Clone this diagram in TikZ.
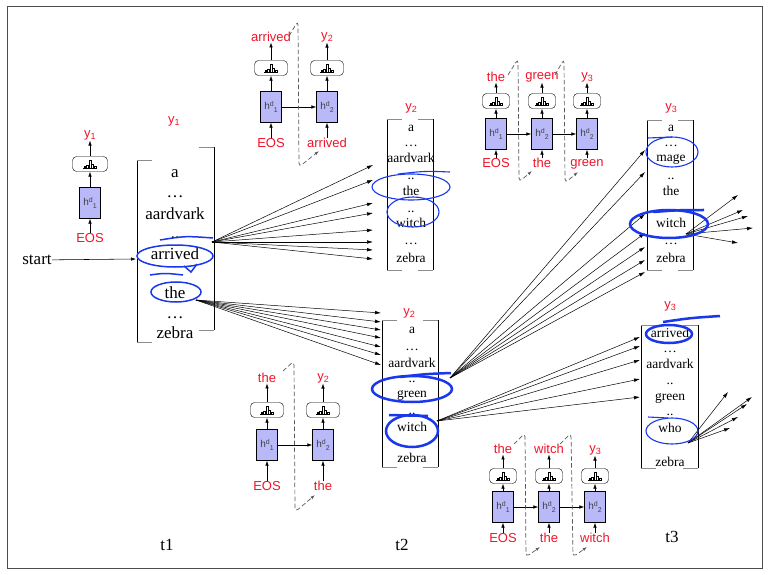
\documentclass[tikz,border=0pt]{standalone}
\usepackage{fontspec}
\setmainfont{Liberation Serif}
\newfontfamily\arial{Liberation Sans}
\usetikzlibrary{arrows.meta}
\definecolor{pen}{RGB}{25,55,235}
\definecolor{hfill}{RGB}{185,185,250}
\definecolor{lbl}{RGB}{240,20,40}
\newcommand\hsym[1]{h\raisebox{0.6ex}{\fontsize{7}{7}\selectfont d}\raisebox{-0.5ex}{\fontsize{7}{7}\selectfont #1}}
\newcommand\ylab[1]{y\raisebox{-0.4ex}{\fontsize{9}{9}\selectfont #1}}
\def\distw{33}
\tikzset{
 wd/.style={font=\fontsize{13.5}{14}\selectfont, inner sep=0pt, anchor=base},
 wdbig/.style={font=\fontsize{17}{18}\selectfont, inner sep=0pt, anchor=base},
 tlab/.style={font=\fontsize{17}{18}\selectfont, inner sep=0pt},
 rl/.style={font=\arial\fontsize{13}{13}\selectfont, text=lbl, inner sep=0.5pt},
 hbox/.style={draw, fill=hfill, minimum width=21pt, minimum height=31pt, inner sep=0pt, font=\arial\fontsize{10}{10}\selectfont, text=black!75},
 dbox/.style={draw, rounded corners=4pt, minimum width=\distw pt, minimum height=15pt, inner sep=0pt},
 ar/.style={-{Latex[length=5pt,width=3.5pt]}, line width=0.55pt},
 fan/.style={-{Latex[length=6pt,width=3.6pt]}, line width=0.5pt},
 fb/.style={dash pattern=on 4.5pt off 2.5pt, draw=black!65, line width=0.7pt, rounded corners=4pt, -{Latex[length=4.5pt,width=3pt]}},
 brk/.style={line width=0.7pt},
 brtick/.style={line width=0.9pt, draw=black!45},
 circthin/.style={draw=pen, line width=1.1pt},
 circmid/.style={draw=pen, line width=1.5pt},
 circthick/.style={draw=pen, line width=2.5pt},
 hist/.pic={
   \draw[line width=0.5pt] (-7,4) -- (7,4);
   \foreach \xx/\hh in {-5.2/2,-2.6/3,0/8,2.6/4,5.2/2}
     \draw[line width=0.45pt] (\xx-0.9,4) rectangle (\xx+0.9,4-\hh);
 }
}
\newcommand\decunit[9]{%
 \node[rl] (#1o) at (#2,#3) {#7};
 \node[dbox] (#1d) at (#2,#4) {};
 \pic at (#1d.center) {hist};
 \node[hbox] (#1h) at (#2,#5) {\hsym{#9}};
 \node[rl] (#1i) at (#2,#6) {#8};
 \draw[ar] (#1i) -- (#1h);
 \draw[ar] (#1h) -- (#1d);
 \draw[ar] (#1d) -- (#1o);
}
\newcommand\brbox[4]{%
 \draw[brk] (#1,#2) -- (#1,#4);
 \draw[brk] (#3,#2) -- (#3,#4);
 \draw[brtick] (#1,#2) -- (#1+15,#2);
 \draw[brtick] (#1,#4) -- (#1+15,#4);
 \draw[brtick] (#3,#2) -- (#3-15,#2);
 \draw[brtick] (#3,#4) -- (#3-15,#4);
}
\begin{document}
\begin{tikzpicture}[x=1pt,y=-1pt]
\useasboundingbox (0,0) rectangle (769,575);
\draw[line width=0.6pt, black!70] (7,6) rectangle (762,568);

% ---------- decoder units ----------
\def\distw{35}
\decunit{TL}{90}{135}{164}{203}{238}{\ylab{1}}{EOS}{1}
\def\distw{33}
\decunit{Aa}{271}{37}{68}{107}{143}{arrived}{EOS}{1}
\decunit{Ab}{327}{37}{68}{107}{143}{\ylab{2}}{arrived}{2}
\draw[ar] (Aah) -- (Abh);
\draw[fb] (289,36) -- (298,21) -- (299,167) -- (319,151);

\def\distw{27}
\decunit{Ba}{496}{77}{101}{134}{163}{the}{EOS}{1}
\decunit{Bb}{542}{77}{101}{134}{163}{green}{the}{2}
\decunit{Bc}{587}{77}{101}{134}{164}{\ylab{3}}{green}{2}
\draw[ar] (Bah) -- (Bbh);
\draw[ar] (Bbh) -- (Bch);
\draw[fb] (508,75) -- (518,59) -- (519,182) -- (532,171);
\draw[fb] (555,75) -- (564,59) -- (565,183) -- (578,172);

\def\distw{33}
\decunit{Ca}{267}{378}{410}{445}{486}{the}{EOS}{1}
\decunit{Cb}{323}{378}{410}{445}{486}{\ylab{2}}{the}{2}
\draw[ar] (Cah) -- (Cbh);
\draw[fb] (283,371) -- (294,361) -- (295,512) -- (315,495);

\def\distw{27}
\decunit{Da}{503}{449}{476}{507}{538}{the}{EOS}{1}
\decunit{Db}{549}{449}{476}{507}{538}{witch}{the}{2}
\decunit{Dc}{595}{450}{476}{507}{538}{\ylab{3}}{witch}{2}
\draw[ar] (Dah) -- (Dbh);
\draw[ar] (Dbh) -- (Dch);
\draw[fb] (514,444) -- (525,433) -- (526,557) -- (540,547);
\draw[fb] (560,444) -- (571,433) -- (573,557) -- (587,547);

% ---------- t1 column ----------
\node[rl] (y1h) at (174,121) {\ylab{1}};
\draw[brk] (137,160) -- (137,342);
\draw[brtick] (137,160) -- (152,160);
\draw[brtick] (137,342) -- (152,342);
\draw[brk] (214,147) -- (214,330);
\draw[brtick] (214,147) -- (199,147);
\draw[brtick] (214,330) -- (199,330);
\node[wdbig] (w1a) at (175,178) {a};
\node[wdbig] (w1b) at (175,197) {…};
\node[wdbig] (w1c) at (175,219) {aardvark};
\node[wdbig] (w1d) at (175,238) {..};
\node[wdbig] (w1e) at (175,259) {arrived};
\node[wdbig] (w1f) at (175,298) {the};
\node[wdbig] (w1g) at (175,318) {…};
\node[wdbig] (w1h) at (175,338) {zebra};

\node[tlab] (start) at (37,260) {start};
\coordinate (t1in) at (136,259);
\draw[ar] (start) -- (t1in);

% ---------- t2 top column ----------
\node[rl] (y2a) at (411,108) {\ylab{2}};
\brbox{387}{119}{433}{270}
\node[wd] (w2a) at (411,132) {a};
\node[wd] (w2b) at (411,147) {…};
\node[wd] (w2c) at (411,163) {aardvark};
\node[wd] (w2d) at (411,179) {..};
\node[wd] (w2e) at (411,196) {the};
\node[wd] (w2f) at (411,212) {..};
\node[wd] (w2g) at (411,228) {witch};
\node[wd] (w2h) at (411,244) {…};
\node[wd] (w2i) at (411,262) {zebra};

% ---------- t2 bottom column ----------
\node[rl] (y2b) at (409,313) {\ylab{2}};
\brbox{382}{320}{438}{467}
\node[wd] (v2a) at (412,333) {a};
\node[wd] (v2b) at (412,350) {…};
\node[wd] (v2c) at (412,367) {aardvark};
\node[wd] (v2d) at (412,382) {..};
\node[wd] (v2e) at (412,397) {green};
\node[wd] (v2f) at (412,414) {..};
\node[wd] (v2g) at (412,431) {witch};
\node[wd] (v2h) at (412,462) {zebra};

% ---------- t3 top column ----------
\node[rl] (y3a) at (671,108) {\ylab{3}};
\brbox{647}{120}{693}{270}
\node[wd] (w3a) at (671,132) {a};
\node[wd] (w3b) at (671,147) {…};
\node[wd] (w3c) at (671,162) {mage};
\node[wd] (w3d) at (671,179) {..};
\node[wd] (w3e) at (671,196) {the};
\node[wd] (w3g) at (671,228) {witch};
\node[wd] (w3h) at (671,244) {…};
\node[wd] (w3i) at (671,262) {zebra};

% ---------- t3 bottom column ----------
\node[rl] (y3b) at (670,306) {\ylab{3}};
\brbox{641}{325}{698}{468}
\node[wd] (v3a) at (670,337) {arrived};
\node[wd] (v3b) at (670,352) {…};
\node[wd] (v3c) at (670,368) {aardvark};
\node[wd] (v3d) at (670,384) {..};
\node[wd] (v3e) at (670,400) {green};
\node[wd] (v3f) at (670,415) {..};
\node[wd] (v3g) at (670,432) {who};
\node[wd] (v3h) at (670,466) {zebra};

% ---------- fans ----------
\coordinate (pA) at (212,242);
\foreach \yy [count=\i] in {165,180,203,213,230,242,250,259}
  {\coordinate (fA\i) at (373,\yy); \draw[fan] (pA) -- (fA\i);}
\coordinate (pB) at (196,300);
\foreach \yy [count=\i] in {313,322,330,338,347,355,365}
  {\coordinate (fB\i) at (381,\yy); \draw[fan] (pB) -- (fB\i);}
\coordinate (pC) at (450,378);
\foreach \yy [count=\i] in {150,172,214,233,247,260,272}
  {\coordinate (fC\i) at (645,\yy); \draw[fan] (pC) -- (fC\i);}
\coordinate (pD) at (437,421);
\foreach \yy [count=\i] in {337,346,360,379,397}
  {\coordinate (fD\i) at (640,\yy); \draw[fan] (pD) -- (fD\i);}
\coordinate (pE) at (686,234);
\foreach \xx/\yy [count=\i] in {738/195,743/210,748/216,753/228,738/243}
  {\coordinate (fE\i) at (\xx,\yy); \draw[fan] (pE) -- (fE\i);}
\coordinate (pF) at (688,443);
\foreach \xx/\yy [count=\i] in {728/392,752/397,747/404,738/417,730/428}
  {\coordinate (fF\i) at (\xx,\yy); \draw[fan] (pF) -- (fF\i);}

\node[tlab] (t1) at (167,545) {t1};
\node[tlab] (t2) at (402,545) {t2};
\node[tlab] (t3) at (672,537) {t3};

% ---------- blue pen circles ----------
\draw[circmid] (175,256) ellipse [x radius=38, y radius=11];
\draw[circmid] (160,240) .. controls (185,236) .. (213,238);
\draw[circmid] (184,266) -- (191,272) -- (197,264);
\draw[circmid] (176,292) ellipse [x radius=25, y radius=10];
\draw[circmid] (150,275) .. controls (165,273) .. (183,275);
\draw[circthin] (411,187) ellipse [x radius=39, y radius=13];
\draw[circthin] (398,174) .. controls (425,171) .. (450,172);
\draw[circthin] (413,212) ellipse [x radius=26, y radius=15];
\draw[circthick] (412,389) ellipse [x radius=40, y radius=13];
\draw[circthick] (400,377) .. controls (425,374) .. (451,373);
\draw[circthick] (412,431) ellipse [x radius=26, y radius=16];
\draw[circthick] (389,415) -- (428,416);
\draw[circthin] (672,152) ellipse [x radius=26, y radius=15];
\draw[circthin] (648,138) -- (672,137);
\draw[circthick] (669,224) ellipse [x radius=39, y radius=14];
\draw[circthick] (653,212) .. controls (680,210) .. (704,210);
\draw[circthick] (669,334) ellipse [x radius=23, y radius=9];
\draw[circthick] (663,322) .. controls (690,318) .. (720,316);
\draw[circthin] (672,431) ellipse [x radius=26, y radius=13];
\draw[circthin] (648,417) -- (668,418);
\end{tikzpicture}
\end{document}
